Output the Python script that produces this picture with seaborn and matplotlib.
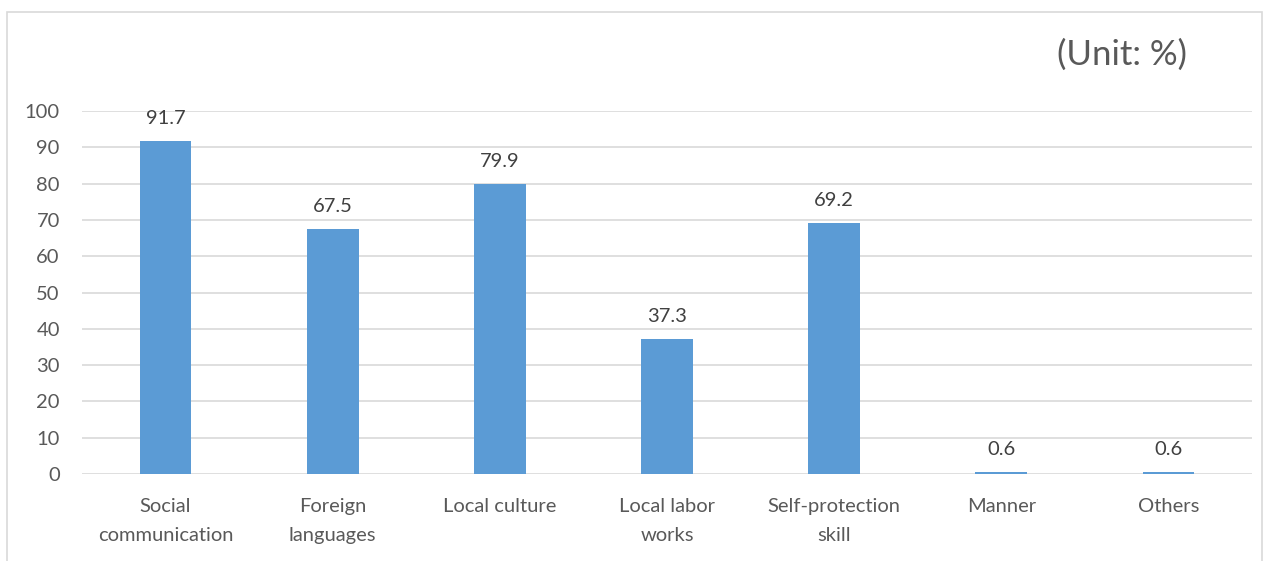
import matplotlib
matplotlib.use("Agg")
import matplotlib.pyplot as plt
import seaborn as sns
import pandas as pd
from matplotlib.patches import Rectangle

categories = ["Social\ncommunication", "Foreign\nlanguages", "Local culture",
              "Local labor\nworks", "Self-protection\nskill", "Manner", "Others"]
values = [91.7, 67.5, 79.9, 37.3, 69.2, 0.6, 0.6]
yticks = [0, 10, 20, 30, 40, 50, 60, 70, 80, 90, 100]

sns.set_theme(style="white")
plt.rcParams['font.family'] = ['Lato', 'DejaVu Sans']

fig = plt.figure(figsize=(12.72, 5.61), dpi=100)
ax = fig.add_axes([82/1272, 87/561, (1252-82)/1272, (474-111)/561])

df = pd.DataFrame({"cat": categories, "val": values})
sns.barplot(data=df, x="cat", y="val", ax=ax, color="#5B9BD5", width=0.31,
            saturation=1, edgecolor="none")

ax.set_ylim(0, 100)
ax.set_yticks(yticks)
ax.set_yticklabels([str(t) for t in yticks])
ax.yaxis.grid(True, color="#D9D9D9", linewidth=1.2)
ax.set_axisbelow(True)
for s in ax.spines.values():
    s.set_visible(False)
ax.tick_params(axis="both", length=0, labelsize=14.5, colors="#595959")
ax.tick_params(axis="y", pad=16)
ax.tick_params(axis="x", pad=17)
for lbl in ax.get_xticklabels():
    lbl.set_linespacing(1.85)
ax.set_xlabel("")
ax.set_ylabel("")

for p, v in zip(ax.patches, values):
    ax.annotate(f"{v}", (p.get_x() + p.get_width()/2, p.get_height()),
                xytext=(0, 10), textcoords="offset points", ha="center", va="bottom",
                fontsize=14.5, color="#404040")

fig.text(1187/1272, 1 - 55/561, "(Unit: %)", ha="right", va="center", fontsize=25, color="#595959")
fig.patches.append(Rectangle((7/1272, -0.1), (1262-7)/1272, 1 - 12/561 + 0.1,
                             transform=fig.transFigure, fill=False,
                             edgecolor="#D9D9D9", linewidth=1.2))

fig.savefig("out.png", dpi=100)
